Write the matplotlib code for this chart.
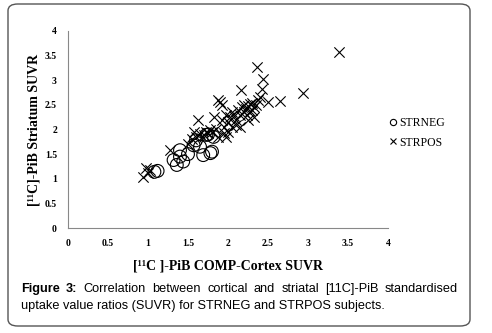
import matplotlib.pyplot as plt
from matplotlib.patches import FancyBboxPatch
from matplotlib.lines import Line2D

# STRNEG subjects (cortex SUVR, striatum SUVR)
neg_x = [1.08, 1.12, 1.32, 1.36, 1.40, 1.40, 1.44, 1.50, 1.57, 1.65, 1.69, 1.73, 1.78, 1.80, 1.82, 1.60, 1.75]
neg_y = [1.14, 1.16, 1.38, 1.28, 1.45, 1.58, 1.35, 1.50, 1.68, 1.65, 1.48, 1.89, 1.52, 1.55, 1.85, 1.78, 1.90]

# STRPOS subjects
pos_x = [0.94, 0.98, 1.00, 1.02, 1.28, 1.50, 1.55, 1.57, 1.60, 1.63, 1.65, 1.70, 1.73,
         1.75, 1.78, 1.82, 1.85, 1.88, 1.90, 1.92, 1.93, 1.95, 1.95, 1.97, 2.00, 2.00,
         2.02, 2.05, 2.05, 2.08, 2.10, 2.12, 2.15, 2.15, 2.16, 2.18, 2.20, 2.20, 2.22,
         2.24, 2.25, 2.27, 2.28, 2.30, 2.30, 2.32, 2.33, 2.35, 2.36, 2.38, 2.40, 2.42,
         2.44, 2.50, 2.65, 2.94, 3.39, 1.88, 1.98, 2.25, 2.10, 1.80]
pos_y = [1.04, 1.21, 1.12, 1.18, 1.58, 1.70, 1.80, 1.95, 1.85, 2.19, 1.90, 1.88, 1.95,
         1.92, 1.98, 2.26, 2.02, 2.60, 2.56, 2.49, 2.20, 2.05, 1.92, 2.30, 1.95, 2.15,
         2.25, 2.05, 2.35, 2.28, 2.20, 2.40, 2.05, 2.30, 2.81, 2.45, 2.50, 2.35, 2.42,
         2.30, 2.48, 2.38, 2.52, 2.40, 2.54, 2.45, 2.25, 2.50, 3.27, 2.60, 2.65, 2.83,
         3.02, 2.56, 2.58, 2.75, 3.58, 1.85, 1.85, 2.20, 2.10, 1.95]

xticks = [0, 0.5, 1, 1.5, 2, 2.5, 3, 3.5, 4]
yticks = [0, 0.5, 1, 1.5, 2, 2.5, 3, 3.5, 4]
tick_labels = ['0', '0.5', '1', '1.5', '2', '2.5', '3', '3.5', '4']

serif = ['Liberation Serif', 'DejaVu Serif']
sans = ['Liberation Sans', 'DejaVu Sans']

fig = plt.figure(figsize=(4.92, 3.33), dpi=100)
W, H = 492, 333

# rounded frame round the whole figure
frame = FancyBboxPatch((8 / W, 7 / H), 462 / W, 322 / H,
                       boxstyle='round,pad=0,rounding_size=0.02',
                       transform=fig.transFigure, fill=False,
                       edgecolor='#555555', linewidth=1.0)
fig.patches.append(frame)

ax = fig.add_axes([68 / W, 105 / H, 320 / W, 197 / H])
ax.scatter(neg_x, neg_y, s=85, marker='o', facecolors='none', edgecolors='black', linewidths=0.8)
ax.scatter(pos_x, pos_y, s=55, marker='x', color='black', linewidths=0.8)

ax.set_xlim(0, 4)
ax.set_ylim(0, 4)
ax.set_xticks(xticks)
ax.set_xticklabels(tick_labels)
ax.set_yticks(yticks)
ax.set_yticklabels(tick_labels)
ax.tick_params(length=0, pad=8)
for lab in ax.get_xticklabels() + ax.get_yticklabels():
    lab.set_family(serif)
    lab.set_fontweight('bold')
    lab.set_fontsize(7)

for s in ['top', 'right']:
    ax.spines[s].set_visible(False)
for s in ['left', 'bottom']:
    ax.spines[s].set_color('#888888')

ax.set_xlabel('[\u00b9\u00b9C ]-PiB COMP-Cortex SUVR', family=serif, fontweight='bold',
              fontsize=10, labelpad=8)
ax.set_ylabel('[\u00b9\u00b9C]-PiB Striatum SUVR', family=serif, fontweight='bold',
              fontsize=10, labelpad=3)

handles = [Line2D([], [], marker='o', ls='none', mfc='none', mec='black', ms=4.5, mew=0.8),
           Line2D([], [], marker='x', ls='none', color='black', ms=4.5, mew=0.8)]
fig.legend(handles, ['STRNEG', 'STRPOS'], loc='center left',
           bbox_to_anchor=(376 / W, 1 - 133 / H), frameon=False,
           prop={'family': serif, 'size': 8.5}, handletextpad=0.05, handlelength=1.0,
           labelspacing=0.6)

# caption, first line justified across the frame
line1 = ['Figure', '3:', 'Correlation', 'between', 'cortical', 'and', 'striatal',
         '[11C]-PiB', 'standardised']
fig.canvas.draw()
r = fig.canvas.get_renderer()
texts = []
for i, w in enumerate(line1):
    t = fig.text(0, 1 - 289 / H, w, family=sans, fontsize=9.2, va='center',
                 fontweight='bold' if i < 2 else 'normal')
    texts.append(t)
widths = [t.get_window_extent(r).width for t in texts]
left, right = 21, 458
gap = (right - left - sum(widths)) / (len(widths) - 1)
x = left
for t, w in zip(texts, widths):
    t.set_x(x / W)
    x += w + gap
fig.text(left / W, 1 - 306 / H, 'uptake value ratios (SUVR) for STRNEG and STRPOS subjects.',
         family=sans, fontsize=9.2, va='center')

fig.savefig('out.png', dpi=100)
